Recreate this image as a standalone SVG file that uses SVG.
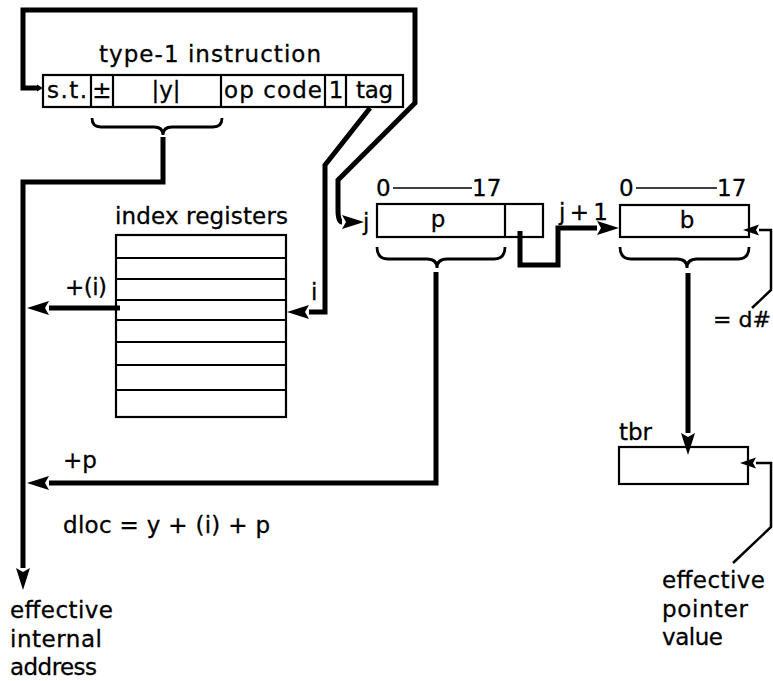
<svg xmlns="http://www.w3.org/2000/svg" width="773" height="681" viewBox="0 0 773 681">
<style>
  text { font-family: "DejaVu Sans", "Liberation Sans", sans-serif; font-size: 23px; fill: #000; stroke: #000; stroke-width: 0.3; }
  .box { fill: #fff; stroke: #000; stroke-width: 2.2; }
  .wire { fill: none; stroke: #000; stroke-width: 5; stroke-linejoin: miter; }
  .lead { fill: none; stroke: #000; stroke-width: 2.5; }
  .thin { fill: none; stroke: #000; stroke-width: 2.2; }
  .dash { fill: none; stroke: #000; stroke-width: 1.6; }
  .brace { fill: none; stroke: #000; stroke-width: 2.8; }
  .mid { text-anchor: middle; }
</style>
<defs>
  <marker id="ah" markerUnits="userSpaceOnUse" markerWidth="24" markerHeight="16" refX="0" refY="8" orient="auto">
    <path d="M0,1 L22,8 L0,15 L4,8 z" fill="#000"/>
  </marker>
  <marker id="al" markerUnits="userSpaceOnUse" markerWidth="18" markerHeight="14" refX="0" refY="7" orient="auto">
    <path d="M0,1.5 L16,7 L0,12.5 L3,7 z" fill="#000"/>
  </marker>
  <marker id="as" markerUnits="userSpaceOnUse" markerWidth="8" markerHeight="8" refX="0" refY="4" orient="auto-start-reverse">
    <path d="M0,0.5 L6,4 L0,7.5 z" fill="#000"/>
  </marker>
</defs>

<g id="instruction">
  <text x="99" y="62" textLength="222" lengthAdjust="spacing">type-1 instruction</text>
  <rect class="box" x="43" y="75" width="360" height="32"/>
  <line class="thin" x1="91" y1="75" x2="91" y2="107"/>
  <line class="thin" x1="113" y1="75" x2="113" y2="107"/>
  <line class="thin" x1="221" y1="75" x2="221" y2="107"/>
  <line class="thin" x1="325" y1="75" x2="325" y2="107"/>
  <line class="thin" x1="346" y1="75" x2="346" y2="107"/>
  <text x="47" y="98" textLength="40" lengthAdjust="spacing">s.t.</text>
  <text class="mid" x="102" y="98">±</text>
  <text class="mid" x="166" y="98">|y|</text>
  <text x="224" y="98" textLength="98" lengthAdjust="spacing">op code</text>
  <text class="mid" x="336" y="98">1</text>
  <text x="356" y="98" textLength="37" lengthAdjust="spacing">tag</text>
  <path class="brace" d="M92,118 Q92,127 101,127 L154,127 Q163,127 163,135 Q163,127 172,127 L213,127 Q222,127 222,118"/>
</g>

<g id="index-registers">
  <text x="115" y="224" textLength="173" lengthAdjust="spacing">index registers</text>
  <rect class="box" x="116" y="235" width="170" height="182"/>
  <line class="thin" x1="116" y1="258" x2="286" y2="258"/>
  <line class="thin" x1="116" y1="279" x2="286" y2="279"/>
  <line class="thin" x1="116" y1="300" x2="286" y2="300"/>
  <line class="thin" x1="116" y1="320" x2="286" y2="320"/>
  <line class="thin" x1="116" y1="342" x2="286" y2="342"/>
  <line class="thin" x1="116" y1="365" x2="286" y2="365"/>
  <line class="thin" x1="116" y1="390" x2="286" y2="390"/>
</g>

<g id="p-register">
  <text x="376" y="196">0</text>
  <line class="dash" x1="393" y1="188" x2="472" y2="188"/>
  <text x="472" y="196">17</text>
  <text x="363" y="230">j</text>
  <rect class="box" x="377" y="204" width="166" height="33"/>
  <line class="thin" x1="505" y1="204" x2="505" y2="237"/>
  <text class="mid" x="438" y="227">p</text>
  <path class="brace" d="M377,247 Q377,259 388,259 L427,259 Q437,259 437,268 Q437,259 447,259 L494,259 Q505,259 505,247"/>
</g>

<g id="b-register">
  <text x="619" y="196">0</text>
  <line class="dash" x1="636" y1="188" x2="717" y2="188"/>
  <text x="717" y="196">17</text>
  <text x="559" y="220" textLength="49" lengthAdjust="spacing">j + 1</text>
  <rect class="box" x="620" y="205" width="129" height="32"/>
  <text class="mid" x="687" y="228">b</text>
  <path class="brace" d="M620,247 Q620,259 631,259 L677,259 Q687,259 687,268 Q687,259 697,259 L738,259 Q749,259 749,247"/>
  <text x="713" y="327" style="font-size:22px">= d#</text>
</g>

<g id="tbr">
  <text x="619" y="440">tbr</text>
  <rect class="box" x="619" y="447" width="129" height="37"/>
  <text x="662" y="588" textLength="103" lengthAdjust="spacing">effective</text>
  <text x="662" y="617" textLength="86" lengthAdjust="spacing">pointer</text>
  <text x="662" y="645" textLength="61" lengthAdjust="spacing">value</text>
</g>

<g id="labels">
  <text x="65" y="295" textLength="42" lengthAdjust="spacing">+(i)</text>
  <text x="311" y="300">i</text>
  <text x="63" y="468">+p</text>
  <text x="63" y="533" textLength="207" lengthAdjust="spacing">dloc = y + (i) + p</text>
  <text x="10" y="618" textLength="103" lengthAdjust="spacing">effective</text>
  <text x="10" y="647" textLength="92" lengthAdjust="spacing">internal</text>
  <text x="10" y="675" textLength="87" lengthAdjust="spacing">address</text>
</g>

<g id="connectors">
  <path class="wire" d="M37,88 L23,88 L23,10 L415,10 L415,103 L338,180 L338,210 Q338,222 342,222" marker-start="url(#as)" marker-end="url(#ah)"/>
  <path class="wire" d="M370,108 L325,165 L325,312 L309,312" marker-end="url(#ah)"/>
  <path class="wire" d="M120,308 L49,308" marker-end="url(#ah)"/>
  <path class="wire" d="M163,137 L163,182 L23,182 L23,568" marker-end="url(#ah)"/>
  <path class="wire" d="M436,272 L436,483 L49,483" marker-end="url(#ah)"/>
  <path class="wire" d="M520,231 L520,265 L558,265 L558,228 L597,228" marker-end="url(#ah)"/>
  <path class="wire" d="M688,273 L688,433" marker-end="url(#ah)"/>
  <path class="lead" d="M752,308 L771,290 L771,230 L759,230" marker-end="url(#al)"/>
  <path class="lead" d="M733,563 L771,527 L771,463 L756,463" marker-end="url(#al)"/>
</g>
</svg>
